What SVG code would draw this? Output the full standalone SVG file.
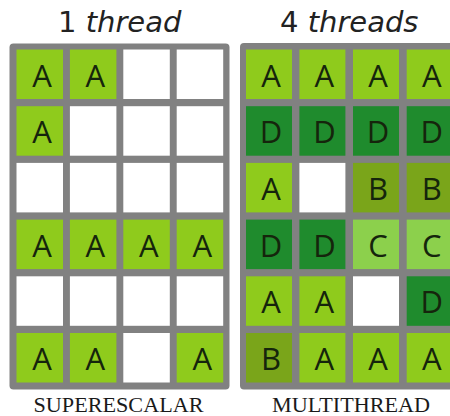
<svg xmlns="http://www.w3.org/2000/svg" width="450" height="416" viewBox="0 0 450 416">
  <style>
    .frame { fill: #818181; }
    .cell { stroke: none; }
    .a { fill: #8fcb1c; }
    .d { fill: #1f8b2d; }
    .b { fill: #7aa51a; }
    .c { fill: #8cd04c; }
    .w { fill: #ffffff; }
    .lbl { font-family: "Open Sans", "DejaVu Sans", sans-serif; font-size: 31px; fill: #15250c; text-anchor: middle; }
    .title { font-family: "DejaVu Sans", sans-serif; font-size: 29px; fill: #222222; }
    .caption { font-family: "Liberation Serif", serif; font-size: 21px; fill: #1a1a1a; }
  </style>

  <rect width="450" height="416" fill="#ffffff"/>

  <!-- headings -->
  <g id="title-single">
    <text class="title" x="58" y="32">1 <tspan font-style="italic">thread</tspan></text>
  </g>
  <g id="title-multi">
    <text class="title" x="280" y="32">4 <tspan font-style="italic">threads</tspan></text>
  </g>

  <!-- issue-slot grid, single thread -->
  <g id="grid-superscalar">
    <rect class="frame" x="9.5" y="43.5" width="220" height="346" rx="4"/>
    <!-- row 1 -->
    <g id="s-r1c1"><rect class="cell a" x="16.5" y="49.5" width="46.5" height="49.5"/><text class="lbl" x="42" y="86.5">A</text></g>
    <g id="s-r1c2"><rect class="cell a" x="69.9" y="49.5" width="46.5" height="49.5"/><text class="lbl" x="95.4" y="86.5">A</text></g>
    <g id="s-r1c3"><rect class="cell w" x="123.3" y="49.5" width="46.5" height="49.5"/></g>
    <g id="s-r1c4"><rect class="cell w" x="176.7" y="49.5" width="46.5" height="49.5"/></g>
    <!-- row 2 -->
    <g id="s-r2c1"><rect class="cell a" x="16.5" y="106.2" width="46.5" height="49.5"/><text class="lbl" x="42" y="143.2">A</text></g>
    <g id="s-r2c2"><rect class="cell w" x="69.9" y="106.2" width="46.5" height="49.5"/></g>
    <g id="s-r2c3"><rect class="cell w" x="123.3" y="106.2" width="46.5" height="49.5"/></g>
    <g id="s-r2c4"><rect class="cell w" x="176.7" y="106.2" width="46.5" height="49.5"/></g>
    <!-- row 3 -->
    <g id="s-r3c1"><rect class="cell w" x="16.5" y="162.9" width="46.5" height="49.5"/></g>
    <g id="s-r3c2"><rect class="cell w" x="69.9" y="162.9" width="46.5" height="49.5"/></g>
    <g id="s-r3c3"><rect class="cell w" x="123.3" y="162.9" width="46.5" height="49.5"/></g>
    <g id="s-r3c4"><rect class="cell w" x="176.7" y="162.9" width="46.5" height="49.5"/></g>
    <!-- row 4 -->
    <g id="s-r4c1"><rect class="cell a" x="16.5" y="219.6" width="46.5" height="49.5"/><text class="lbl" x="42" y="256.6">A</text></g>
    <g id="s-r4c2"><rect class="cell a" x="69.9" y="219.6" width="46.5" height="49.5"/><text class="lbl" x="95.4" y="256.6">A</text></g>
    <g id="s-r4c3"><rect class="cell a" x="123.3" y="219.6" width="46.5" height="49.5"/><text class="lbl" x="148.8" y="256.6">A</text></g>
    <g id="s-r4c4"><rect class="cell a" x="176.7" y="219.6" width="46.5" height="49.5"/><text class="lbl" x="202.2" y="256.6">A</text></g>
    <!-- row 5 -->
    <g id="s-r5c1"><rect class="cell w" x="16.5" y="276.3" width="46.5" height="49.5"/></g>
    <g id="s-r5c2"><rect class="cell w" x="69.9" y="276.3" width="46.5" height="49.5"/></g>
    <g id="s-r5c3"><rect class="cell w" x="123.3" y="276.3" width="46.5" height="49.5"/></g>
    <g id="s-r5c4"><rect class="cell w" x="176.7" y="276.3" width="46.5" height="49.5"/></g>
    <!-- row 6 -->
    <g id="s-r6c1"><rect class="cell a" x="16.5" y="333" width="46.5" height="49.5"/><text class="lbl" x="42" y="370">A</text></g>
    <g id="s-r6c2"><rect class="cell a" x="69.9" y="333" width="46.5" height="49.5"/><text class="lbl" x="95.4" y="370">A</text></g>
    <g id="s-r6c3"><rect class="cell w" x="123.3" y="333" width="46.5" height="49.5"/></g>
    <g id="s-r6c4"><rect class="cell a" x="176.7" y="333" width="46.5" height="49.5"/><text class="lbl" x="202.2" y="370">A</text></g>
  </g>

  <!-- issue-slot grid, four threads -->
  <g id="grid-multithread">
    <rect class="frame" x="240" y="43" width="220" height="346.5" rx="4"/>
    <!-- row 1 -->
    <g id="m-r1c1"><rect class="cell a" x="246" y="49.5" width="46" height="49.5"/><text class="lbl" x="271" y="86.5">A</text></g>
    <g id="m-r1c2"><rect class="cell a" x="299.4" y="49.5" width="46" height="49.5"/><text class="lbl" x="324.4" y="86.5">A</text></g>
    <g id="m-r1c3"><rect class="cell a" x="353" y="49.5" width="46" height="49.5"/><text class="lbl" x="378" y="86.5">A</text></g>
    <g id="m-r1c4"><rect class="cell a" x="406.7" y="49.5" width="46" height="49.5"/><text class="lbl" x="431.7" y="86.5">A</text></g>
    <!-- row 2 -->
    <g id="m-r2c1"><rect class="cell d" x="246" y="106.2" width="46" height="49.5"/><text class="lbl" x="271" y="143.2">D</text></g>
    <g id="m-r2c2"><rect class="cell d" x="299.4" y="106.2" width="46" height="49.5"/><text class="lbl" x="324.4" y="143.2">D</text></g>
    <g id="m-r2c3"><rect class="cell d" x="353" y="106.2" width="46" height="49.5"/><text class="lbl" x="378" y="143.2">D</text></g>
    <g id="m-r2c4"><rect class="cell d" x="406.7" y="106.2" width="46" height="49.5"/><text class="lbl" x="431.7" y="143.2">D</text></g>
    <!-- row 3 -->
    <g id="m-r3c1"><rect class="cell a" x="246" y="162.9" width="46" height="49.5"/><text class="lbl" x="271" y="199.9">A</text></g>
    <g id="m-r3c2"><rect class="cell w" x="299.4" y="162.9" width="46" height="49.5"/></g>
    <g id="m-r3c3"><rect class="cell b" x="353" y="162.9" width="46" height="49.5"/><text class="lbl" x="378" y="199.9">B</text></g>
    <g id="m-r3c4"><rect class="cell b" x="406.7" y="162.9" width="46" height="49.5"/><text class="lbl" x="431.7" y="199.9">B</text></g>
    <!-- row 4 -->
    <g id="m-r4c1"><rect class="cell d" x="246" y="219.6" width="46" height="49.5"/><text class="lbl" x="271" y="256.6">D</text></g>
    <g id="m-r4c2"><rect class="cell d" x="299.4" y="219.6" width="46" height="49.5"/><text class="lbl" x="324.4" y="256.6">D</text></g>
    <g id="m-r4c3"><rect class="cell c" x="353" y="219.6" width="46" height="49.5"/><text class="lbl" x="378" y="256.6">C</text></g>
    <g id="m-r4c4"><rect class="cell c" x="406.7" y="219.6" width="46" height="49.5"/><text class="lbl" x="431.7" y="256.6">C</text></g>
    <!-- row 5 -->
    <g id="m-r5c1"><rect class="cell a" x="246" y="276.3" width="46" height="49.5"/><text class="lbl" x="271" y="313.3">A</text></g>
    <g id="m-r5c2"><rect class="cell a" x="299.4" y="276.3" width="46" height="49.5"/><text class="lbl" x="324.4" y="313.3">A</text></g>
    <g id="m-r5c3"><rect class="cell w" x="353" y="276.3" width="46" height="49.5"/></g>
    <g id="m-r5c4"><rect class="cell d" x="406.7" y="276.3" width="46" height="49.5"/><text class="lbl" x="431.7" y="313.3">D</text></g>
    <!-- row 6 -->
    <g id="m-r6c1"><rect class="cell b" x="246" y="333" width="46" height="49.5"/><text class="lbl" x="271" y="370">B</text></g>
    <g id="m-r6c2"><rect class="cell a" x="299.4" y="333" width="46" height="49.5"/><text class="lbl" x="324.4" y="370">A</text></g>
    <g id="m-r6c3"><rect class="cell a" x="353" y="333" width="46" height="49.5"/><text class="lbl" x="378" y="370">A</text></g>
    <g id="m-r6c4"><rect class="cell a" x="406.7" y="333" width="46" height="49.5"/><text class="lbl" x="431.7" y="370">A</text></g>
  </g>

  <!-- captions -->
  <g id="caption-superscalar">
    <text class="caption" x="33.5" y="412" textLength="170" lengthAdjust="spacingAndGlyphs">SUPERESCALAR</text>
  </g>
  <g id="caption-multithread">
    <text class="caption" x="272" y="412" textLength="158" lengthAdjust="spacingAndGlyphs">MULTITHREAD</text>
  </g>
</svg>
